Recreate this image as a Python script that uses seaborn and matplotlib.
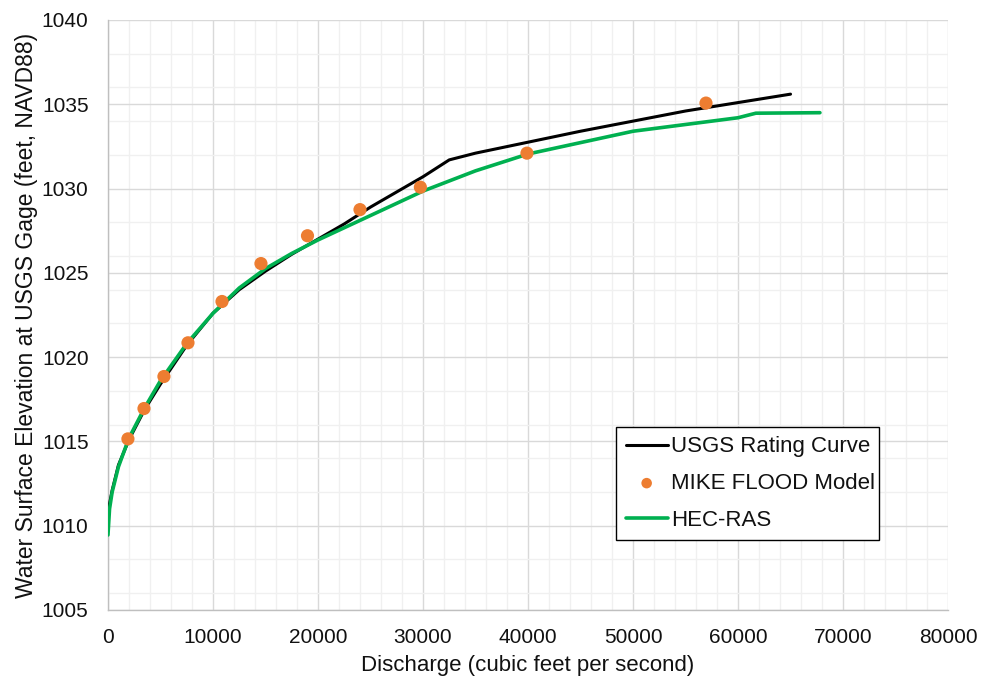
import matplotlib
matplotlib.use("Agg")
import matplotlib.pyplot as plt
from matplotlib.ticker import MultipleLocator
import seaborn as sns
import pandas as pd

# USGS rating curve
usgs_q = [0, 150, 400, 1000, 2000, 3500, 5000, 7500, 10000, 12500, 15000, 17500, 20000,
          22500, 25000, 27500, 30000, 32500, 35000, 40000, 45000, 50000, 55000, 60000, 65000]
usgs_wse = [1010.6, 1011.3, 1012.1, 1013.6, 1015.1, 1016.9, 1018.4, 1020.7, 1022.6, 1024.0,
            1025.1, 1026.1, 1027.0, 1027.9, 1028.9, 1029.8, 1030.7, 1031.7, 1032.1, 1032.75,
            1033.4, 1034.0, 1034.6, 1035.1, 1035.6]

# MIKE FLOOD model points
mike_q = [1900, 3430, 5330, 7620, 10860, 14570, 19000, 24000, 29750, 39900, 56950]
mike_wse = [1015.15, 1016.95, 1018.85, 1020.85, 1023.3, 1025.55, 1027.2, 1028.75, 1030.08,
            1032.1, 1035.07]

# HEC-RAS
hec_q = [0, 150, 400, 1000, 2000, 3500, 5000, 7500, 10000, 12500, 15000, 17500, 20000,
         25000, 30000, 35000, 40000, 50000, 60000, 61700, 67800]
hec_wse = [1009.45, 1011.0, 1012.0, 1013.5, 1015.2, 1017.0, 1018.6, 1020.8, 1022.6, 1024.1,
           1025.25, 1026.15, 1026.95, 1028.4, 1029.85, 1031.05, 1032.05, 1033.4, 1034.2,
           1034.47, 1034.5]

usgs = pd.DataFrame({"q": usgs_q, "wse": usgs_wse})
mike = pd.DataFrame({"q": mike_q, "wse": mike_wse})
hec = pd.DataFrame({"q": hec_q, "wse": hec_wse})

sns.set_theme(style="white")
plt.rcParams["font.family"] = ["Liberation Sans", "DejaVu Sans"]
plt.rcParams["text.color"] = "#111111"

fig = plt.figure(figsize=(9.86, 6.84), dpi=100)
ax = fig.add_axes([0.1095, 0.1082, 0.852, 0.8626])

sns.lineplot(data=usgs, x="q", y="wse", ax=ax, color="black", linewidth=2.2,
             sort=False, label="USGS Rating Curve", zorder=3)
sns.lineplot(data=hec, x="q", y="wse", ax=ax, color="#00B050", linewidth=2.6,
             sort=False, label="HEC-RAS", zorder=4)
sns.scatterplot(data=mike, x="q", y="wse", ax=ax, color="#ED7D31", s=90,
                edgecolor="none", label="MIKE FLOOD Model", zorder=5)

ax.set_xlim(0, 80000)
ax.set_ylim(1005, 1040)
ax.xaxis.set_major_locator(MultipleLocator(10000))
ax.xaxis.set_minor_locator(MultipleLocator(2000))
ax.yaxis.set_major_locator(MultipleLocator(5))
ax.yaxis.set_minor_locator(MultipleLocator(2))
ax.grid(which="major", color="#D9D9D9", linewidth=1.0, zorder=0)
ax.grid(which="minor", color="#F0F0F0", linewidth=1.0, zorder=0)
ax.set_axisbelow(True)

for s in ["top", "right"]:
    ax.spines[s].set_visible(False)
for s in ["left", "bottom"]:
    ax.spines[s].set_color("#BFBFBF")
    ax.spines[s].set_linewidth(1.0)

ax.tick_params(axis="both", which="both", length=0, labelsize=15, colors="#111111")
ax.tick_params(axis="y", pad=14)
ax.tick_params(axis="x", pad=13)
ax.set_xlabel("Discharge (cubic feet per second)", fontsize=16, color="#111111", labelpad=6)
ax.set_ylabel("Water Surface Elevation at USGS Gage (feet, NAVD88)", fontsize=16.5,
              color="#111111", labelpad=3)

h, l = ax.get_legend_handles_labels()
order = [l.index("USGS Rating Curve"), l.index("MIKE FLOOD Model"), l.index("HEC-RAS")]
leg = ax.legend([h[i] for i in order], [l[i] for i in order], loc="upper left",
                bbox_to_anchor=(0.605, 0.31, 0.313, 0.0), mode="expand", borderaxespad=0,
                fontsize=16, frameon=True, fancybox=False, edgecolor="black",
                framealpha=1, handlelength=1.9, handletextpad=0.15, borderpad=0.42,
                labelspacing=0.7, markerscale=0.8, labelcolor="#111111")
leg.get_frame().set_linewidth(1.0)

fig.savefig("out.png", dpi=100)
